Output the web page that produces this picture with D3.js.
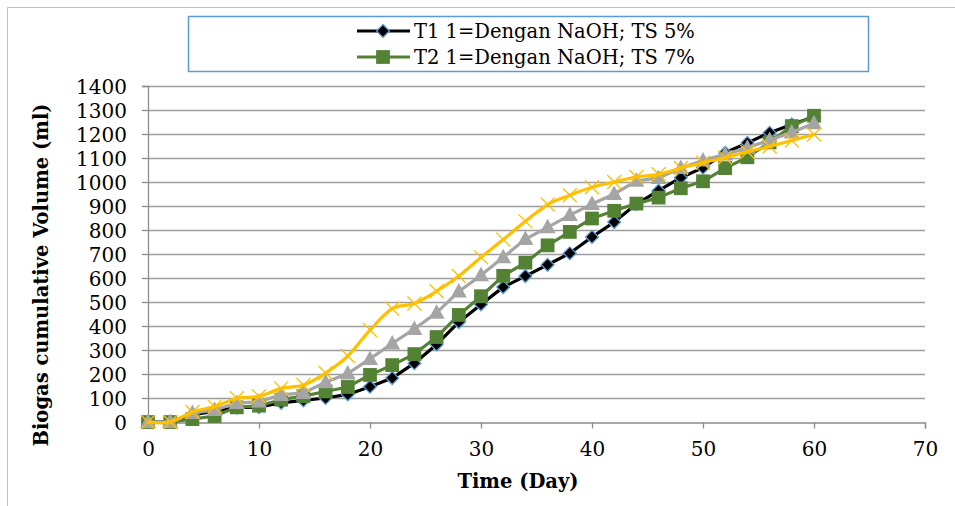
<!DOCTYPE html>
<html>
<head>
<meta charset="utf-8">
<script src="https://cdn.jsdelivr.net/npm/d3@7"></script>
<style>
  html, body { margin: 0; padding: 0; background: #fff; }
  svg { display: block; }
  text { font-family: "DejaVu Serif", "Liberation Serif", serif; fill: #000; }
</style>
</head>
<body>
<svg id="chart" width="955" height="506"></svg>
<script>
// ---- data ----
const days = [0,2,4,6,8,10,12,14,16,18,20,22,24,26,28,30,32,34,36,38,40,42,44,46,48,50,52,54,56,58,60];
const t1 = [0,0,30,45,60,62,80,90,100,115,147,183,245,323,416,490,562,608,655,703,771,833,908,964,1018,1060,1122,1163,1205,1240,1272];
const t2 = [0,0,12,25,61,68,93,108,127,146,196,237,283,354,446,524,609,664,736,792,848,880,910,935,974,1003,1058,1103,1165,1233,1276];
const t3 = [0,0,37,50,79,85,113,121,166,202,263,327,388,455,544,611,686,762,811,862,908,950,1005,1017,1058,1090,1115,1143,1175,1206,1245];
const t4 = [0,0,42,64,99,107,140,154,204,275,383,472,494,545,608,686,760,836,906,945,978,1000,1021,1032,1058,1080,1102,1126,1148,1173,1198];
const seriesNames = ["T1 1=Dengan NaOH; TS 5%", "T2 1=Dengan NaOH; TS 7%", "T3", "T4"];
const legendNames = ["T1 1=Dengan NaOH; TS 5%", "T2 1=Dengan NaOH; TS 7%"];
const xTicks = [0,10,20,30,40,50,60,70];
const yTicks = [0,100,200,300,400,500,600,700,800,900,1000,1100,1200,1300,1400];
const xTitle = "Time (Day)";
const yTitle = "Biogas cumulative Volume (ml)";

// ---- styles ----
const styles = [
  { color: "#000000", marker: "diamond", curve: d3.curveLinear },
  { color: "#548235", marker: "square",  curve: d3.curveLinear },
  { color: "#a5a5a5", marker: "triangle", curve: d3.curveLinear },
  { color: "#ffc000", marker: "x",       curve: d3.curveCatmullRom.alpha(0) }
];

const svg = d3.select("#chart");
svg.append("rect").attr("width", 955).attr("height", 506).attr("fill", "#fff");
// outer chart border
svg.append("rect").attr("x", 7.5).attr("y", 7.5).attr("width", 960).attr("height", 510)
  .attr("fill", "none").attr("stroke", "#bfbfbf").attr("stroke-width", 1);

const x = d3.scaleLinear().domain([0, 70]).range([148, 925]);
const y = d3.scaleLinear().domain([0, 1400]).range([422, 86]);

// gridlines
svg.append("g").selectAll("line").data(yTicks.filter(v => v > 0)).join("line")
  .attr("x1", x(0)).attr("x2", x(70))
  .attr("y1", d => Math.round(y(d)) + 0.5).attr("y2", d => Math.round(y(d)) + 0.5)
  .attr("stroke", "#9d9d9d").attr("stroke-width", 1.3);

// axes
const xAxis = svg.append("g").attr("transform", `translate(0,${Math.round(y(0)) + 0.5})`)
  .call(d3.axisBottom(x).tickValues(xTicks).tickSize(6).tickPadding(13).tickFormat(d3.format("d")));
const yAxis = svg.append("g").attr("transform", `translate(${x(0)},0)`)
  .call(d3.axisLeft(y).tickValues(yTicks).tickSize(6).tickPadding(15).tickFormat(d3.format("d")));
[xAxis, yAxis].forEach(a => {
  a.select(".domain").attr("stroke", "#8c8c8c").attr("stroke-width", 1.3);
  a.selectAll(".tick line").attr("stroke", "#8c8c8c").attr("stroke-width", 1.3);
  a.selectAll("text").attr("font-family", "DejaVu Serif").attr("font-size", 20).attr("fill", "#000");
});
yAxis.selectAll("text").attr("dy", "0.36em");

// series
const all = [t1, t2, t3, t4];
function markerPath(type) {
  if (type === "diamond") return d3.symbol(d3.symbolDiamond2, 105)();
  if (type === "square") return d3.symbol(d3.symbolSquare, 190)();
  if (type === "triangle") return "M0,-8.5L8,6L-8,6Z";
  return "M-7,-7L7,7M-7,7L7,-7";
}
function drawMarker(g, type, color) {
  const p = g.append("path").attr("d", markerPath(type));
  if (type === "diamond") p.attr("fill", "#000").attr("stroke", "#5b9bd5").attr("stroke-width", 1.3);
  else if (type === "x") p.attr("fill", "none").attr("stroke", color).attr("stroke-width", 1.3);
  else p.attr("fill", color).attr("stroke", "none");
}

all.forEach((vals, i) => {
  const st = styles[i];
  const pts = days.map((d, j) => [d, vals[j]]);
  const g = svg.append("g");
  g.append("path").datum(pts)
    .attr("d", d3.line().x(d => x(d[0])).y(d => y(d[1])).curve(st.curve))
    .attr("fill", "none").attr("stroke", st.color).attr("stroke-width", 3.2)
    .attr("stroke-linejoin", "round");
  pts.forEach(p => {
    const mg = g.append("g").attr("transform", `translate(${x(p[0])},${y(p[1])})`);
    drawMarker(mg, st.marker, st.color);
  });
});

// axis titles
svg.append("text").attr("x", 518).attr("y", 488).attr("text-anchor", "middle")
  .attr("font-weight", "bold").attr("font-size", 19.5).text(xTitle);
svg.append("text").attr("transform", "translate(48,275) rotate(-90)").attr("text-anchor", "middle")
  .attr("font-weight", "bold").attr("font-size", 19.5).text(yTitle);

// legend
const lg = svg.append("g");
lg.append("rect").attr("x", 188.5).attr("y", 16.5).attr("width", 680).attr("height", 55)
  .attr("fill", "#fff").attr("stroke", "#5b9bd5").attr("stroke-width", 1.5);
legendNames.forEach((name, i) => {
  const st = styles[i];
  const cy = 31 + i * 26;
  lg.append("line").attr("x1", 357).attr("x2", 410).attr("y1", cy).attr("y2", cy)
    .attr("stroke", st.color).attr("stroke-width", 3.2);
  const mg = lg.append("g").attr("transform", `translate(383,${cy})`);
  drawMarker(mg, st.marker, st.color);
  lg.append("text").attr("x", 414).attr("y", cy).attr("dy", "0.36em")
    .attr("font-size", 19.5).text(name);
});
</script>
</body>
</html>
